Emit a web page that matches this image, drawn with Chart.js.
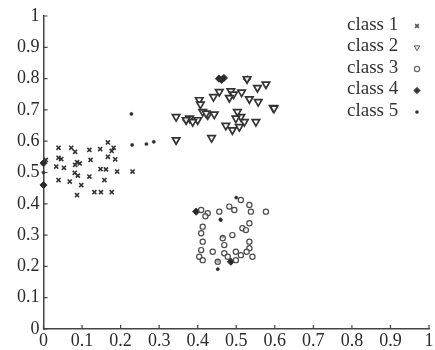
<!DOCTYPE html>
<html>
<head>
<meta charset="utf-8">
<script src="https://cdn.jsdelivr.net/npm/chart.js@4/dist/chart.umd.min.js"></script>
<style>
html,body{margin:0;padding:0;background:#fff;}
#wrap{width:435px;height:350px;}
</style>
</head>
<body>
<div id="wrap"><canvas id="c" width="435" height="350"></canvas></div>
<script>
// ---- data ----
const legendLabels = ["class 1", "class 2", "class 3", "class 4", "class 5"];
const tickValues = [0, 0.1, 0.2, 0.3, 0.4, 0.5, 0.6, 0.7, 0.8, 0.9, 1];
const tickLabels = ["0", "0.1", "0.2", "0.3", "0.4", "0.5", "0.6", "0.7", "0.8", "0.9", "1"];

const class1X = [0.039,0.072,0.082,0.119,0.147,0.167,0.182,0.177,0.167,0.186,0.039,0.046,0.033,0.053,0.087,0.082,0.094,0.122,0.081,0.089,0.148,0.162,0.191,0.039,0.068,0.119,0.158,0.098,0.087,0.132,0.149,0.177,0.006,0.231];
const class1Y = [0.579,0.579,0.566,0.572,0.575,0.596,0.579,0.569,0.550,0.542,0.547,0.543,0.519,0.515,0.533,0.524,0.529,0.540,0.499,0.490,0.511,0.510,0.503,0.476,0.471,0.487,0.476,0.460,0.428,0.437,0.437,0.437,0.540,0.503];

const class2X = [0.528,0.555,0.577,0.456,0.441,0.486,0.493,0.514,0.482,0.534,0.557,0.596,0.404,0.407,0.413,0.426,0.443,0.379,0.400,0.503,0.512,0.499,0.521,0.551,0.473,0.490,0.508,0.436,0.344,0.370,0.387,0.422,0.344,0.598];
const class2Y = [0.799,0.771,0.782,0.758,0.742,0.760,0.750,0.756,0.739,0.735,0.726,0.707,0.732,0.718,0.694,0.684,0.686,0.673,0.668,0.694,0.678,0.673,0.662,0.662,0.650,0.636,0.646,0.611,0.678,0.668,0.662,0.689,0.604,0.705];

const class3X = [0.409,0.426,0.456,0.482,0.495,0.512,0.534,0.538,0.577,0.413,0.409,0.516,0.534,0.525,0.413,0.465,0.469,0.409,0.404,0.413,0.439,0.469,0.478,0.499,0.512,0.534,0.534,0.542,0.452,0.527,0.499,0.420,0.490];
const class3Y = [0.380,0.370,0.375,0.391,0.380,0.412,0.396,0.375,0.375,0.327,0.306,0.322,0.338,0.316,0.279,0.290,0.268,0.252,0.231,0.220,0.247,0.242,0.231,0.247,0.236,0.279,0.258,0.231,0.215,0.247,0.220,0.360,0.300];

const class4X = [0.455,0.462,0.468,0.528,0.396,0.486,0.000,0.000,0.370];
const class4Y = [0.800,0.796,0.802,0.798,0.375,0.215,0.530,0.460,0.668];

const class5X = [0.230,0.267,0.286,0.228,0.459,0.465,0.452,0.452,0.460,0.000,0.500];
const class5Y = [0.588,0.591,0.598,0.687,0.350,0.295,0.217,0.191,0.348,0.500,0.420];

// ---- build ----
const pts = (xs, ys) => xs.map((x, i) => ({x: x, y: ys[i]}));
const ink = '#333';

const styles = [
  {pointStyle: 'crossRot', radius: 2.9, borderWidth: 1.6, bg: ink, rotation: 0},
  {pointStyle: 'triangle', radius: 4.3, borderWidth: 1.7, bg: 'rgba(255,255,255,0.9)', rotation: 180},
  {pointStyle: 'circle', radius: 2.6, borderWidth: 1.2, bg: 'rgba(255,255,255,0.6)', rotation: 0},
  {pointStyle: 'rectRot', radius: 3.6, borderWidth: 1, bg: '#2a2a2a', rotation: 0},
  {pointStyle: 'circle', radius: 1.6, borderWidth: 0.5, bg: '#2a2a2a', rotation: 0}
];
const seriesX = [class1X, class2X, class3X, class4X, class5X];
const seriesY = [class1Y, class2Y, class3Y, class4Y, class5Y];

const datasets = legendLabels.map((lab, i) => ({
  label: lab,
  data: pts(seriesX[i], seriesY[i]),
  pointStyle: styles[i].pointStyle,
  pointRadius: styles[i].radius,
  pointBorderWidth: styles[i].borderWidth,
  pointBorderColor: i === 2 ? '#4a4a4a' : ink,
  pointBackgroundColor: styles[i].bg,
  pointRotation: styles[i].rotation,
  showLine: false,
  clip: false
}));

const tickFont = {family: '"Liberation Serif", "Times New Roman", serif', size: 18};
const fmt = (v) => {
  const idx = tickValues.findIndex(t => Math.abs(t - v) < 1e-6);
  return idx >= 0 ? tickLabels[idx] : '';
};

const inwardTicks = {
  id: 'inwardTicks',
  afterDraw(chart) {
    const ctx = chart.ctx;
    const xs = chart.scales.x, ys = chart.scales.y;
    const a = chart.chartArea;
    ctx.save();
    ctx.strokeStyle = '#444';
    ctx.lineWidth = 1.2;
    ctx.beginPath();
    tickValues.forEach(v => {
      const px = xs.getPixelForValue(v);
      ctx.moveTo(px, a.bottom);
      ctx.lineTo(px, a.bottom - 4);
      const py = ys.getPixelForValue(v);
      ctx.moveTo(a.left, py);
      ctx.lineTo(a.left + 4, py);
    });
    ctx.stroke();
    ctx.restore();
  }
};

const customLegend = {
  id: 'customLegend',
  afterDraw(chart) {
    const ctx = chart.ctx;
    ctx.save();
    ctx.font = '19px "Liberation Serif", "Times New Roman", serif';
    ctx.textAlign = 'left';
    ctx.textBaseline = 'middle';
    const x0 = 347, sx = 417, y0 = 25, dy = 21.5;
    legendLabels.forEach((lab, i) => {
      const y = y0 + i * dy;
      ctx.fillStyle = '#333';
      ctx.fillText(lab, x0, y);
      const st = styles[i];
      ctx.strokeStyle = i === 2 ? '#666' : '#555';
      ctx.fillStyle = i === 1 || i === 2 ? '#fff' : '#333';
      ctx.lineWidth = i === 1 ? 1 : st.borderWidth;
      Chart.helpers.drawPoint(ctx, {
        pointStyle: st.pointStyle,
        rotation: st.rotation,
        radius: i === 1 ? 3.2 : (i === 3 ? 3.2 : (i === 0 ? 2.6 : st.radius)),
        borderWidth: i === 1 ? 1 : (i === 0 ? 1.1 : st.borderWidth)
      }, sx, y + 1);
    });
    ctx.restore();
  }
};

new Chart(document.getElementById('c'), {
  type: 'scatter',
  data: {datasets: datasets},
  options: {
    responsive: false,
    animation: false,
    devicePixelRatio: 1,
    layout: {padding: {left: 0, top: 16, right: 5, bottom: 0}},
    plugins: {legend: {display: false}, tooltip: {enabled: false}},
    scales: {
      x: {
        type: 'linear', min: 0, max: 1,
        grid: {display: false, drawTicks: false},
        border: {display: true, color: '#444', width: 1.5},
        ticks: {stepSize: 0.1, padding: 1, color: '#2a2a2a', font: tickFont, maxRotation: 0, autoSkip: false, callback: fmt},
        afterFit(s) { s.height = 21; }
      },
      y: {
        type: 'linear', min: 0, max: 1,
        grid: {display: false, drawTicks: false},
        border: {display: true, color: '#444', width: 1.5},
        ticks: {stepSize: 0.1, padding: 4, color: '#2a2a2a', font: tickFont, autoSkip: false, callback: fmt},
        afterFit(s) { s.width = 43.5; }
      }
    }
  },
  plugins: [inwardTicks, customLegend]
});
</script>
</body>
</html>
